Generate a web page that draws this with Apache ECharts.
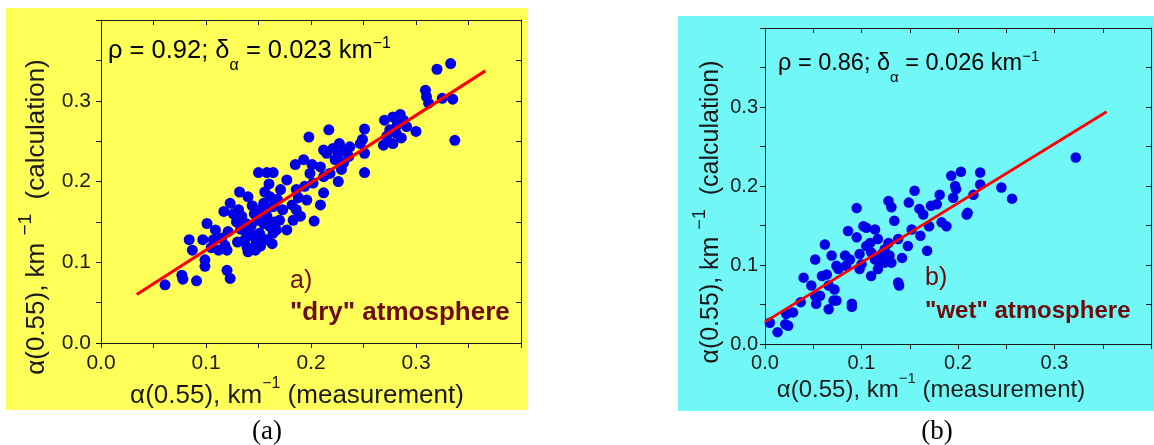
<!DOCTYPE html>
<html>
<head>
<meta charset="utf-8">
<script src="https://cdn.jsdelivr.net/npm/echarts@6/dist/echarts.min.js"></script>
<style>
  html, body { margin: 0; padding: 0; background: #ffffff; }
  #chart { width: 1154px; height: 445px; }
</style>
</head>
<body>
<div id="chart"></div>
<script>
// Aerosol extinction α(0.55): measured (x) vs calculated (y), km^-1

// (a) "dry" atmosphere
const dryPoints = [
  [0.061,0.072],[0.077,0.084],[0.078,0.079],[0.091,0.077],[0.084,0.128],[0.087,0.115],
  [0.097,0.128],[0.101,0.148],[0.107,0.128],[0.099,0.103],[0.099,0.095],[0.112,0.115],
  [0.120,0.115],[0.120,0.090],[0.123,0.080],[0.117,0.163],[0.123,0.173],[0.121,0.138],
  [0.132,0.187],[0.140,0.181],[0.131,0.165],[0.134,0.157],[0.129,0.150],[0.136,0.140],
  [0.142,0.136],[0.137,0.128],[0.145,0.132],[0.148,0.124],[0.139,0.119],[0.147,0.115],
  [0.140,0.113],[0.150,0.211],[0.158,0.211],[0.164,0.211],[0.156,0.187],[0.161,0.181],
  [0.155,0.173],[0.164,0.169],[0.151,0.165],[0.158,0.157],[0.155,0.148],[0.161,0.144],
  [0.167,0.140],[0.164,0.136],[0.158,0.128],[0.151,0.136],[0.177,0.140],[0.182,0.171],
  [0.186,0.165],[0.190,0.157],[0.183,0.152],[0.196,0.177],[0.203,0.151],[0.209,0.171],
  [0.320,0.339],[0.333,0.346],[0.309,0.313],[0.310,0.305],[0.312,0.297],[0.325,0.303],
  [0.335,0.302],[0.337,0.251],[0.270,0.276],[0.278,0.280],[0.285,0.283],[0.288,0.276],
  [0.282,0.270],[0.275,0.264],[0.272,0.256],[0.278,0.247],[0.269,0.245],[0.286,0.254],
  [0.291,0.268],[0.300,0.262],[0.217,0.264],[0.198,0.255],[0.251,0.265],[0.249,0.252],
  [0.251,0.235],[0.251,0.211],[0.221,0.241],[0.227,0.247],[0.232,0.239],[0.236,0.231],
  [0.231,0.223],[0.223,0.227],[0.215,0.235],[0.212,0.239],[0.237,0.243],[0.226,0.233],
  [0.247,0.247],[0.177,0.202],[0.185,0.221],[0.193,0.227],[0.201,0.221],[0.209,0.218],
  [0.212,0.206],[0.202,0.198],[0.194,0.194],[0.186,0.190],[0.212,0.186],[0.226,0.200],
  [0.218,0.210],[0.143,0.145],[0.152,0.120],[0.163,0.123],[0.170,0.152],[0.173,0.165],
  [0.130,0.125],[0.115,0.130],[0.105,0.118],[0.168,0.178],[0.146,0.160],[0.133,0.141],
  [0.149,0.152],[0.157,0.163],[0.144,0.170],[0.126,0.160],[0.160,0.197],[0.171,0.190],
  [0.165,0.150],[0.153,0.130],[0.138,0.148],[0.118,0.121],[0.109,0.140],[0.188,0.180],
  [0.199,0.210],[0.281,0.260],[0.229,0.215]
];
const dryFit = [[0.034, 0.060], [0.366, 0.337]];
const dryRho = '0.92';
const dryDelta = '0.023';

// (b) "wet" atmosphere
const wetPoints = [
  [0.005,0.027],[0.013,0.015],[0.021,0.025],[0.024,0.023],[0.022,0.038],[0.029,0.040],
  [0.037,0.053],[0.040,0.084],[0.048,0.074],[0.052,0.107],[0.052,0.061],[0.053,0.051],
  [0.057,0.061],[0.062,0.126],[0.059,0.086],[0.064,0.088],[0.069,0.112],[0.066,0.074],
  [0.072,0.069],[0.074,0.055],[0.071,0.055],[0.066,0.044],[0.074,0.099],[0.076,0.095],
  [0.084,0.099],[0.083,0.112],[0.088,0.107],[0.086,0.143],[0.090,0.051],[0.090,0.047],
  [0.095,0.172],[0.095,0.135],[0.102,0.149],[0.105,0.147],[0.098,0.095],[0.100,0.101],
  [0.098,0.114],[0.105,0.124],[0.109,0.128],[0.114,0.145],[0.117,0.133],[0.110,0.116],
  [0.114,0.107],[0.119,0.103],[0.121,0.114],[0.124,0.120],[0.128,0.128],[0.124,0.103],
  [0.117,0.095],[0.110,0.086],[0.129,0.112],[0.131,0.103],[0.128,0.181],[0.131,0.173],
  [0.134,0.156],[0.138,0.133],[0.138,0.078],[0.139,0.074],[0.142,0.109],[0.148,0.124],
  [0.152,0.145],[0.149,0.179],[0.155,0.194],[0.160,0.171],[0.164,0.164],[0.161,0.137],
  [0.168,0.118],[0.170,0.149],[0.172,0.175],[0.178,0.177],[0.181,0.189],[0.183,0.154],
  [0.188,0.149],[0.193,0.213],[0.195,0.185],[0.197,0.200],[0.198,0.196],[0.203,0.218],
  [0.209,0.164],[0.210,0.166],[0.216,0.189],[0.223,0.217],[0.223,0.202],[0.245,0.198],
  [0.256,0.184],[0.322,0.236]
];
const wetFit = [[0.0, 0.028], [0.354, 0.294]];
const wetRho = '0.86';
const wetDelta = '0.026';

// shared axis scale
const tickLabels = ['0.0', '0.1', '0.2', '0.3'];
const axisMin = 0;
const axisMax = 0.4;
const tickStep = 0.05;

const SANS = '"Liberation Sans", Arial, Helvetica, sans-serif';
const SERIF = '"Liberation Serif", "Times New Roman", serif';
const INK = '#1a1a1a';
const MAROON = '#6e0c0c';

function tickFormatter(v) {
  const i = Math.round(v / 0.1);
  return (Math.abs(v - i * 0.1) < 1e-9 && i < tickLabels.length) ? tickLabels[i] : '';
}

function scaleAxis(gridIndex, position, fontSize, margin) {
  const outer = position === 'bottom' || position === 'left';
  return {
    gridIndex, type: 'value', position,
    min: axisMin, max: axisMax, interval: tickStep,
    axisLine: { show: true, onZero: false, lineStyle: { color: INK, width: 1 } },
    axisTick: { show: true, inside: !outer, length: 5, lineStyle: { color: INK, width: 1 } },
    axisLabel: outer ? {
      show: true, formatter: tickFormatter, fontSize, color: INK,
      fontFamily: SANS, margin, showMinLabel: true, showMaxLabel: true
    } : { show: false },
    splitLine: { show: false }
  };
}

// rich styles: n = normal, sup = superscript, sub = subscript
function rich(size, supSize, supLift, subDrop, color, weight) {
  const base = { fontFamily: SANS, fill: color, fontWeight: weight || 'normal', verticalAlign: 'middle' };
  return {
    n: Object.assign({}, base, { fontSize: size, lineHeight: size }),
    sup: Object.assign({}, base, { fontSize: supSize, lineHeight: supSize, padding: [0, 0, supLift, 0] }),
    sub: Object.assign({}, base, { fontSize: supSize, lineHeight: supSize, padding: [subDrop, 0, 0, 0] })
  };
}

function label(x, y, text, richStyle, opts) {
  opts = opts || {};
  return {
    type: 'text', x, y, rotation: opts.rotation || 0, z: 100, silent: true,
    style: {
      text, rich: richStyle, align: opts.align || 'left', verticalAlign: 'middle',
      fontFamily: SANS, fontSize: 20, fill: INK
    }
  };
}

const chart = echarts.init(document.getElementById('chart'), null, { renderer: 'canvas' });

chart.setOption({
  backgroundColor: '#ffffff',
  animation: false,
  grid: [
    { left: 101, top: 20, width: 420, height: 323 },
    { left: 765, top: 28, width: 387, height: 316 }
  ],
  xAxis: [
    scaleAxis(0, 'bottom', 21, 10),
    scaleAxis(0, 'top'),
    scaleAxis(1, 'bottom', 20, 9),
    scaleAxis(1, 'top')
  ],
  yAxis: [
    scaleAxis(0, 'left', 21, 10),
    scaleAxis(0, 'right'),
    scaleAxis(1, 'left', 20, 7),
    scaleAxis(1, 'right')
  ],
  series: [
    { type: 'scatter', xAxisIndex: 0, yAxisIndex: 0, data: dryPoints, symbol: 'circle', symbolSize: 11,
      itemStyle: { color: '#0000e6', opacity: 1 }, z: 2 },
    { type: 'line', xAxisIndex: 0, yAxisIndex: 0, data: dryFit, showSymbol: false, symbol: 'none',
      lineStyle: { color: '#ff0000', width: 3 }, z: 3 },
    { type: 'scatter', xAxisIndex: 2, yAxisIndex: 2, data: wetPoints, symbol: 'circle', symbolSize: 10.5,
      itemStyle: { color: '#0000e6', opacity: 1 }, z: 2 },
    { type: 'line', xAxisIndex: 2, yAxisIndex: 2, data: wetFit, showSymbol: false, symbol: 'none',
      lineStyle: { color: '#ff0000', width: 2.8 }, z: 3 }
  ],
  graphic: [
    // panel backgrounds
    { type: 'rect', z: -10, silent: true, shape: { x: 6, y: 8, width: 522, height: 402 }, style: { fill: '#ffff5a' } },
    { type: 'rect', z: -10, silent: true, shape: { x: 678, y: 16, width: 476, height: 395 }, style: { fill: '#72f7f7' } },

    // panel (a) texts
    label(108, 51, '{n|ρ = ' + dryRho + '; δ}{sub|α}{n| = ' + dryDelta + ' km}{sup|−1}', rich(25.5, 16, 15, 30, '#000')),
    label(297, 396, '{n|α(0.55), km}{sup|−1}{n| (measurement)}', rich(26, 16, 25, 0, INK), { align: 'center' }),
    label(37, 217, '{n|α(0.55), km }{sup|−1}{n|  (calculation)}', rich(26, 19, 23, 0, INK), { align: 'center', rotation: Math.PI / 2 }),
    label(290, 281, '{n|a)}', rich(25, 14, 0, 0, MAROON)),
    label(290, 313, '{n|"dry" atmosphere}', rich(26, 14, 0, 0, MAROON, 'bold')),

    // panel (b) texts
    label(778, 64, '{n|ρ = ' + wetRho + '; δ}{sub|α}{n| = ' + wetDelta + ' km}{sup|−1}', rich(23.5, 15, 14, 28, '#000')),
    label(931, 390, '{n|α(0.55), km}{sup|−1}{n| (measurement)}', rich(24, 15, 23, 0, INK), { align: 'center' }),
    label(711, 212, '{n|α(0.55), km }{sup|−1}{n|  (calculation)}', rich(25, 18, 21, 0, INK), { align: 'center', rotation: Math.PI / 2 }),
    label(925, 278, '{n|b)}', rich(25, 14, 0, 0, MAROON)),
    label(925, 311, '{n|"wet" atmosphere}', rich(24, 14, 0, 0, MAROON, 'bold')),

    // captions
    { type: 'text', x: 267, y: 432, z: 100, silent: true,
      style: { text: '(a)', fontFamily: SERIF, fontSize: 27, fill: '#000', align: 'center', verticalAlign: 'middle' } },
    { type: 'text', x: 937, y: 432, z: 100, silent: true,
      style: { text: '(b)', fontFamily: SERIF, fontSize: 27, fill: '#000', align: 'center', verticalAlign: 'middle' } }
  ]
});
</script>
</body>
</html>
